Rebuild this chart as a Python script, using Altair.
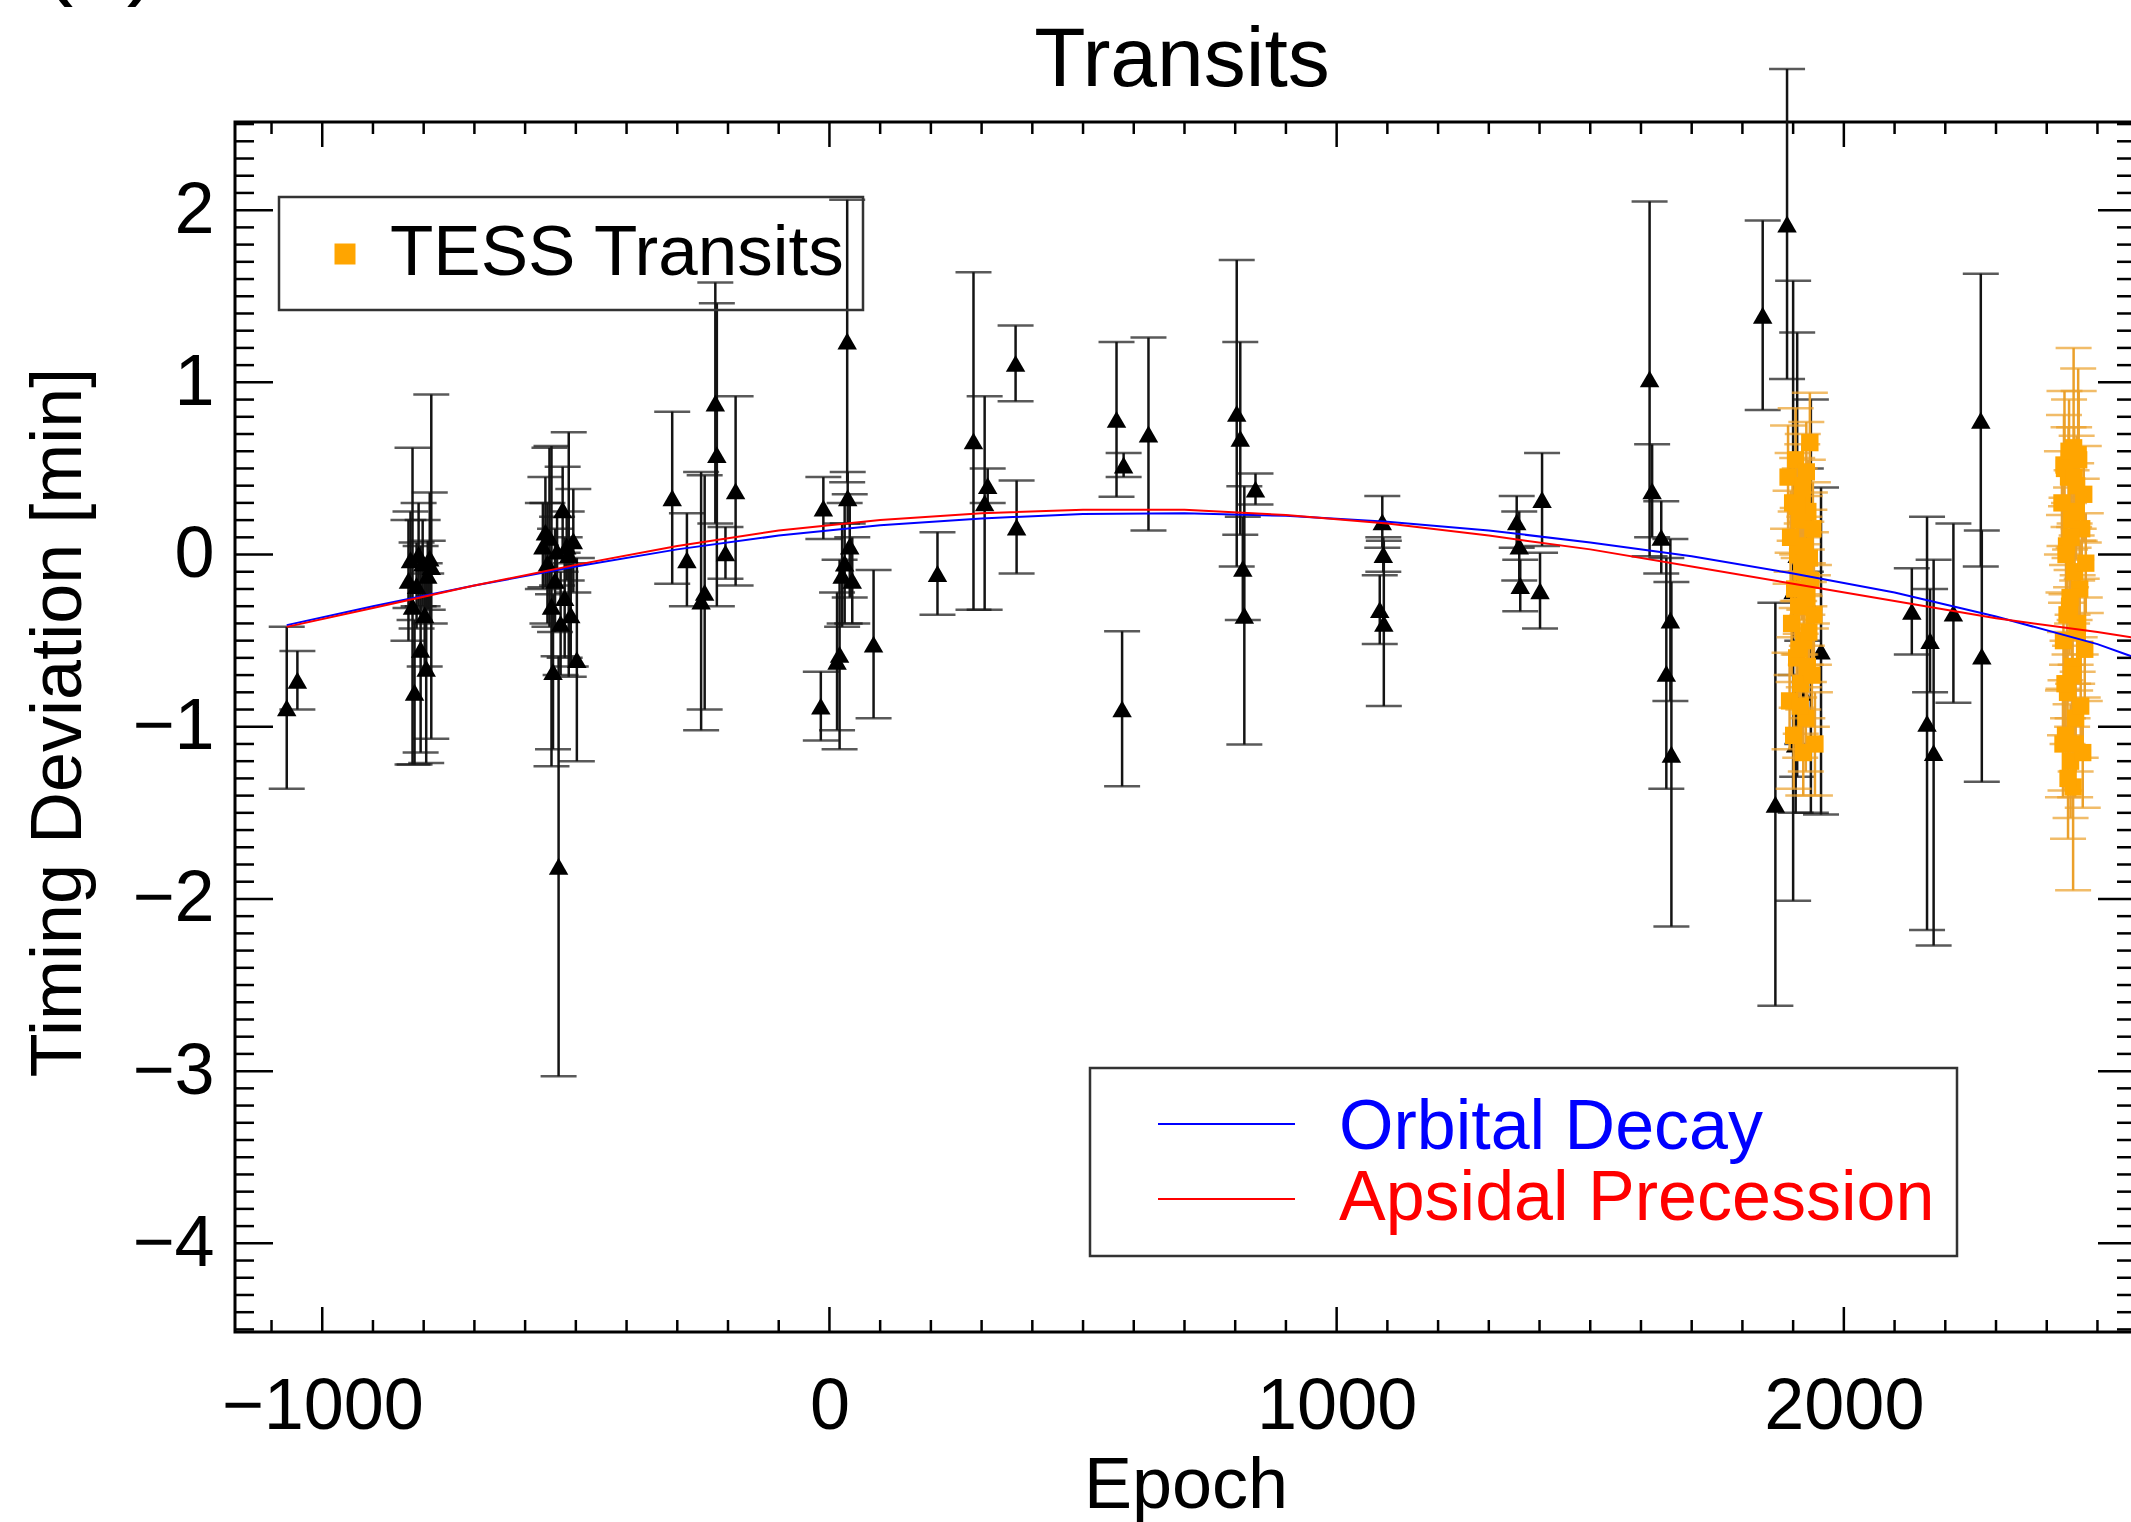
import altair as alt
import pandas as pd

# ---------------- data ----------------
# ground-based transits: (epoch, timing deviation [min], 1-sigma error [min])
black_points = [
    (-1070, -0.89, 0.47), (-1049, -0.73, 0.17),
    (-830, -0.15, 0.35), (-826, -0.03, 0.28), (-822, -0.30, 0.92), (-818, -0.80, 0.42),
    (-814, -0.18, 0.25), (-810, 0.00, 0.30), (-806, -0.55, 0.60), (-802, -0.05, 0.25),
    (-798, -0.35, 0.30), (-795, -0.66, 0.55), (-792, -0.12, 0.20), (-788, -0.02, 0.38),
    (-785, -0.07, 1.00),
    (-565, 0.05, 0.25), (-560, 0.13, 0.32), (-556, -0.05, 0.35), (-552, 0.10, 0.52),
    (-548, -0.30, 0.93), (-545, -0.68, 0.45), (-541, -0.15, 0.30), (-537, 0.02, 0.20),
    (-534, -1.81, 1.22), (-530, -0.40, 0.30), (-526, 0.26, 0.25), (-522, -0.25, 0.35),
    (-518, 0.05, 0.20), (-514, 0.00, 0.71), (-510, -0.35, 0.30), (-505, 0.08, 0.30),
    (-498, -0.61, 0.59),
    (-310, 0.33, 0.50), (-281, -0.03, 0.27), (-253, -0.27, 0.75), (-246, -0.22, 0.68),
    (-225, 0.88, 0.70), (-222, 0.58, 0.88), (-205, 0.01, 0.15), (-185, 0.37, 0.55),
    (-17, -0.88, 0.20), (-12, 0.27, 0.18), (15, -0.62, 0.40), (20, -0.58, 0.55),
    (25, -0.12, 0.30), (30, -0.05, 0.35), (35, 1.24, 0.82), (36, 0.33, 0.15),
    (40, 0.05, 0.30), (45, -0.15, 0.25), (87, -0.52, 0.43),
    (213, -0.11, 0.24), (284, 0.66, 0.98), (306, 0.30, 0.62), (312, 0.40, 0.10),
    (367, 1.11, 0.22), (369, 0.16, 0.27),
    (566, 0.785, 0.45), (577, -0.896, 0.45), (580, 0.52, 0.07), (629, 0.70, 0.56),
    (803, 0.82, 0.89), (810, 0.675, 0.56), (815, -0.08, 0.30), (818, -0.353, 0.75),
    (840, 0.38, 0.09),
    (1085, -0.32, 0.20), (1090, 0.19, 0.15), (1092, 0.00, 0.10), (1093, -0.40, 0.48),
    (1355, 0.19, 0.15), (1360, 0.05, 0.20), (1362, -0.18, 0.15), (1401, -0.21, 0.22),
    (1405, 0.32, 0.27),
    (1617, 1.02, 1.03), (1622, 0.37, 0.27), (1640, 0.10, 0.21), (1650, -0.69, 0.67),
    (1658, -0.38, 0.47), (1660, -1.16, 1.00),
    (1840, 1.39, 0.55), (1865, -1.45, 1.17), (1888, 1.92, 0.90), (1900, -0.21, 1.80),
    (1905, -1.10, 0.40), (1908, 0.00, 1.29), (1918, -0.80, 0.30), (1925, 0.20, 0.30),
    (1935, -0.30, 1.20), (1955, -0.56, 0.95),
    (2134, -0.33, 0.25), (2164, -0.98, 1.20), (2170, -0.50, 0.30), (2177, -1.15, 1.12),
    (2216, -0.34, 0.52), (2270, 0.78, 0.85), (2272, -0.59, 0.73),
]

# TESS transits: (epoch, timing deviation [min], 1-sigma error [min])
tess_points = [
    (1890, 0.45, 0.30), (1893, -0.85, 0.28), (1895, 0.10, 0.27), (1897, -0.40, 0.30),
    (1899, 0.30, 0.29), (1901, -1.05, 0.31), (1903, -0.20, 0.28), (1905, 0.55, 0.30),
    (1907, -0.60, 0.29), (1909, 0.00, 0.27), (1911, -0.30, 0.28), (1913, 0.20, 0.30),
    (1915, -0.75, 0.29), (1917, -0.10, 0.28), (1919, 0.40, 0.30), (1921, -0.50, 0.27),
    (1923, 0.05, 0.29), (1925, -0.95, 0.31), (1927, -0.25, 0.28), (1929, 0.25, 0.30),
    (1931, -0.45, 0.29), (1933, 0.65, 0.29), (1935, -0.15, 0.28), (1937, -0.70, 0.30),
    (1939, 0.15, 0.27), (1941, -0.35, 0.29), (1943, -1.10, 0.30), (1912, -0.55, 0.28),
    (1918, 0.35, 0.29), (1922, -0.05, 0.27), (1928, -0.65, 0.30), (1908, 0.28, 0.28),
    (1926, 0.48, 0.29), (1914, -0.88, 0.30), (1932, -0.02, 0.28), (1920, -1.15, 0.25),
    (2430, 0.30, 0.30), (2433, -0.50, 0.28), (2435, 0.50, 0.45), (2437, -1.05, 0.32),
    (2439, 0.05, 0.28), (2441, -0.80, 0.30), (2443, 0.45, 0.29), (2445, -0.30, 0.28),
    (2447, -1.20, 0.33), (2449, 0.20, 0.29), (2451, -0.65, 0.30), (2453, 0.62, 0.58),
    (2455, -0.10, 0.28), (2457, -0.95, 0.31), (2459, 0.40, 0.29), (2461, -0.40, 0.28),
    (2452, -1.35, 0.60), (2463, 0.55, 0.40), (2465, -0.20, 0.28), (2467, -0.88, 0.30),
    (2469, 0.15, 0.29), (2471, -1.15, 0.32), (2473, 0.35, 0.28), (2475, -0.55, 0.30),
    (2477, -0.05, 0.29), (2432, -1.10, 0.31), (2434, 0.52, 0.29), (2436, -0.75, 0.30),
    (2438, 0.00, 0.28), (2440, -0.35, 0.29), (2442, -1.30, 0.35), (2444, 0.60, 0.30),
    (2446, -0.25, 0.28), (2448, 0.10, 0.29), (2450, -0.70, 0.30), (2454, 0.45, 0.29),
    (2456, -1.10, 0.31), (2458, 0.25, 0.28), (2460, -0.45, 0.30), (2462, 0.58, 0.50),
]

# model curves
model_epoch = [-1070, -900, -700, -500, -300, -100, 100, 300, 500, 700, 900,
               1100, 1300, 1500, 1700, 1900, 2100, 2300, 2500, 2576]
decay_dev = [-0.41, -0.30, -0.18, -0.07, 0.03, 0.11, 0.17, 0.21, 0.235, 0.24, 0.225,
             0.19, 0.14, 0.07, -0.01, -0.11, -0.22, -0.36, -0.52, -0.60]
precession_dev = [-0.42, -0.31, -0.18, -0.06, 0.05, 0.14, 0.20, 0.24, 0.26, 0.26, 0.23,
                  0.18, 0.11, 0.03, -0.07, -0.17, -0.27, -0.37, -0.45, -0.485]

x_major = [-1000, 0, 1000, 2000]
y_major = [-4, -3, -2, -1, 0, 1, 2]
x_minor = [v for v in range(-1100, 2600, 100) if v % 1000 != 0]
y_minor = [round(v / 10, 1) for v in range(-45, 26) if v % 10 != 0]

# ---------------- layout ----------------
FONT = "Liberation Sans"
W, H = 1901, 1210
XDOM = [-1172, 2576]
YDOM = [-4.515, 2.512]

xs = alt.Scale(domain=XDOM, nice=False, zero=False)
ys = alt.Scale(domain=YDOM, nice=False, zero=False)

x_axis = alt.Axis(values=x_major, title="Epoch", ticks=False, tickSize=0, domain=False,
                  grid=False, labelPadding=96, labelBaseline="alphabetic",
                  labelFontSize=72, titleFontSize=72, titleY=175,
                  titleBaseline="alphabetic", format="d", labelFlush=False,
                  labelOverlap=False, labelLimit=0)
y_axis = alt.Axis(values=y_major, title="Timing Deviation [min]", ticks=False,
                  tickSize=0, domain=False, grid=False, labelPadding=21,
                  labelFontSize=72, titleFontSize=72, titleX=-155, titleY=600,
                  titleBaseline="alphabetic", format="d", labelFlush=False,
                  labelOverlap=False, labelLimit=0, titleLimit=0)


def X(f):
    return alt.X(f"{f}:Q", scale=xs, axis=x_axis)


def Y(f):
    return alt.Y(f"{f}:Q", scale=ys, axis=y_axis)


bdf = pd.DataFrame(black_points, columns=["epoch", "dev", "err"])
bdf["lo"] = bdf["dev"] - bdf["err"]
bdf["hi"] = bdf["dev"] + bdf["err"]
tdf = pd.DataFrame(tess_points, columns=["epoch", "dev", "err"])
tdf["lo"] = tdf["dev"] - tdf["err"]
tdf["hi"] = tdf["dev"] + tdf["err"]
decay_df = pd.DataFrame({"epoch": model_epoch, "dev": decay_dev})
prec_df = pd.DataFrame({"epoch": model_epoch, "dev": precession_dev})

BK = "#141414"
OR_BAR = "#EBA02A"
OR = "#FFA500"
layers = []


def errbars(df, color, sw, capw):
    base = alt.Chart(df)
    return [
        base.mark_rule(color=color, strokeWidth=sw).encode(x=X("epoch"), y=Y("lo"), y2="hi"),
        base.mark_tick(orient="horizontal", size=capw, thickness=sw, color=color).encode(
            x=X("epoch"), y=Y("lo")),
        base.mark_tick(orient="horizontal", size=capw, thickness=sw, color=color).encode(
            x=X("epoch"), y=Y("hi")),
    ]


layers += errbars(bdf, BK, 2.5, 36)
layers.append(alt.Chart(bdf).mark_point(shape="triangle-up", filled=True, size=380,
                                        color="black", opacity=1).encode(x=X("epoch"), y=Y("dev")))
layers += errbars(tdf, OR_BAR, 2.5, 36)
layers.append(alt.Chart(tdf).mark_point(shape="square", filled=True, size=300,
                                        color=OR, opacity=1).encode(x=X("epoch"), y=Y("dev")))
layers.append(alt.Chart(decay_df).mark_line(color="#0000FF", strokeWidth=2).encode(
    x=X("epoch"), y=Y("dev")))
layers.append(alt.Chart(prec_df).mark_line(color="#FF0000", strokeWidth=2).encode(
    x=X("epoch"), y=Y("dev")))

# inward ticks on all four sides
ymaj = pd.DataFrame({"v": y_major})
ymin = pd.DataFrame({"v": y_minor})
xmaj = pd.DataFrame({"v": x_major})
xmin = pd.DataFrame({"v": x_minor})
TK = dict(color="black", strokeWidth=2.5)
for df, ln in [(ymaj, 38), (ymin, 19)]:
    layers.append(alt.Chart(df).mark_rule(**TK).encode(y=Y("v"), x=alt.value(0), x2=alt.value(ln)))
    layers.append(alt.Chart(df).mark_rule(**TK).encode(y=Y("v"), x=alt.value(W - ln), x2=alt.value(W)))
for df, ln in [(xmaj, 25), (xmin, 12)]:
    layers.append(alt.Chart(df).mark_rule(**TK).encode(x=X("v"), y=alt.value(H), y2=alt.value(H - ln)))
    layers.append(alt.Chart(df).mark_rule(**TK).encode(x=X("v"), y=alt.value(0), y2=alt.value(ln)))

one = pd.DataFrame({"k": [0]})


def text(t, x, y, size, color="black", align="left", baseline="alphabetic"):
    return alt.Chart(one).mark_text(text=t, font=FONT, fontSize=size, color=color,
                                    align=align, baseline=baseline).encode(
        x=alt.value(x), y=alt.value(y))


# title and panel label (the panel label is cut by the top edge, as in the original)
layers.append(text("Transits", 947, -36, 84, align="center"))
layers.append(text("(a)", -135, -135, 96, align="center"))

# legend 1 : TESS transits
layers.append(alt.Chart(one).mark_rect(filled=False, stroke="#333333", strokeWidth=2.5).encode(
    x=alt.value(44), x2=alt.value(628), y=alt.value(75), y2=alt.value(188)))
layers.append(alt.Chart(one).mark_point(shape="square", filled=True, size=441, color=OR,
                                        opacity=1).encode(x=alt.value(110), y=alt.value(132)))
layers.append(text("TESS Transits", 155, 153, 71))

# legend 2 : models
layers.append(alt.Chart(one).mark_rect(filled=False, stroke="#333333", strokeWidth=2.5).encode(
    x=alt.value(855), x2=alt.value(1722), y=alt.value(946), y2=alt.value(1134)))
layers.append(alt.Chart(one).mark_rule(color="#0000FF", strokeWidth=2).encode(
    x=alt.value(923), x2=alt.value(1060), y=alt.value(1002)))
layers.append(alt.Chart(one).mark_rule(color="#FF0000", strokeWidth=2).encode(
    x=alt.value(923), x2=alt.value(1060), y=alt.value(1077)))
layers.append(text("Orbital Decay", 1104, 1027, 70, color="#0000FF"))
layers.append(text("Apsidal Precession", 1104, 1098, 70, color="#FF0000"))

chart = alt.layer(*layers).properties(
    width=W, height=H,
    autosize=alt.AutoSizeParams(type="none"),
    padding={"left": 235, "top": 122, "right": -5, "bottom": 190},
    background="white",
).configure_view(stroke="black", strokeWidth=3).configure_axis(
    labelFont=FONT, titleFont=FONT, labelColor="black", titleColor="black",
    titleFontWeight="normal")

chart.save("out.html", embed_options={"renderer": "svg", "actions": False})
